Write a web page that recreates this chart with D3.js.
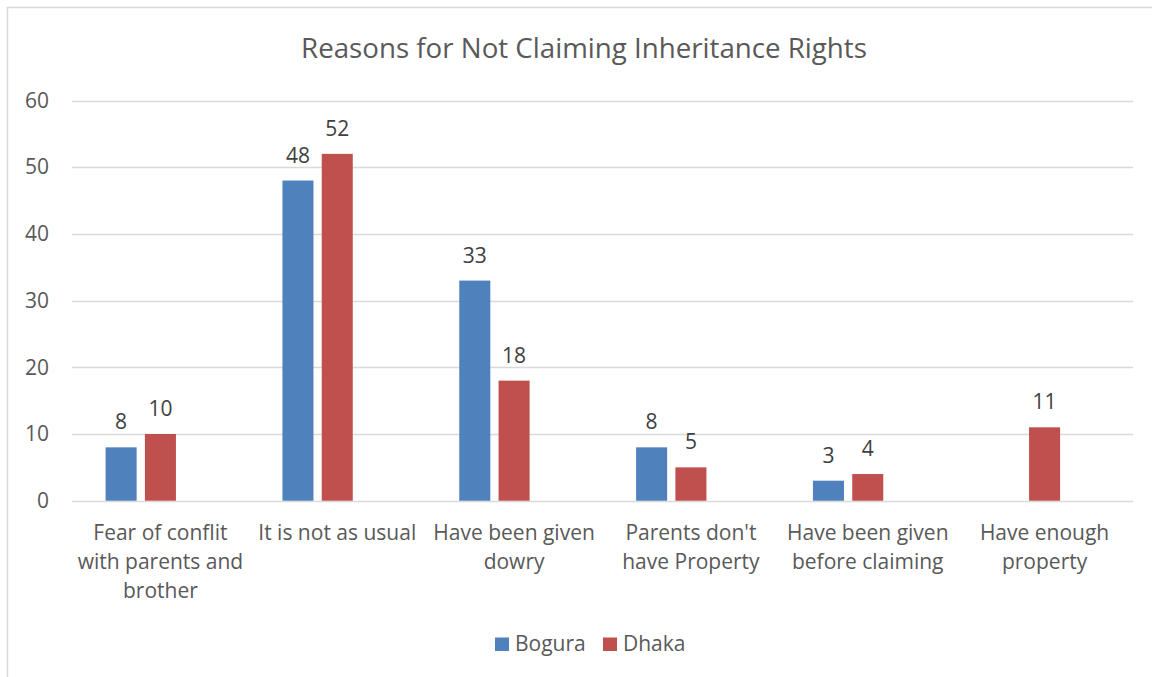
<!DOCTYPE html>
<html>
<head>
<meta charset="utf-8">
<script src="https://cdn.jsdelivr.net/npm/d3@7"></script>
<style>
  html, body { margin: 0; padding: 0; background: #fff; }
  svg { display: block; font-family: "Open Sans", "Noto Sans", sans-serif; }
</style>
</head>
<body>
<svg id="chart" width="1152" height="677"></svg>
<script>
// Survey responses: reasons women gave for not claiming inheritance
const categories = [
  ["Fear of conflit", "with parents and", "brother"],
  ["It is not as usual"],
  ["Have been given", "dowry"],
  ["Parents don't", "have Property"],
  ["Have been given", "before claiming"],
  ["Have enough", "property"]
];
const seriesNames = ["Bogura", "Dhaka"];
const bogura = [8, 48, 33, 8, 3, null];
const dhaka = [10, 52, 18, 5, 4, 11];
const yTicks = [0, 10, 20, 30, 40, 50, 60];
const colors = ["#4F81BD", "#C0504D"];
const title = "Reasons for Not Claiming Inheritance Rights";

const svg = d3.select("#chart");
const textColor = "#595959";
const gridColor = "#D9D9D9";
const fontSize = "21px";

// chart frame (extends past the right and bottom edges)
svg.append("rect")
  .attr("x", 7.5).attr("y", 7.5)
  .attr("width", 1160).attr("height", 690)
  .attr("fill", "#fff").attr("stroke", gridColor).attr("stroke-width", 1.5);

const plot = { left: 72, right: 1133, top: 100.5, bottom: 500.7 };

const y = d3.scaleLinear().domain([0, 60]).range([plot.bottom, plot.top]);
const catKeys = categories.map((c, i) => i);
const x = d3.scaleBand().domain(catKeys).range([plot.left, plot.right]).paddingInner(0).paddingOuter(0);
// three slots per cluster, the last one left empty
const xSub = d3.scaleBand().domain(["Bogura", "Dhaka", "_"]).range([0, x.bandwidth()])
  .paddingInner(0.21).paddingOuter(0.855);

// gridlines
svg.append("g")
  .selectAll("line")
  .data(yTicks)
  .join("line")
  .attr("x1", plot.left).attr("x2", plot.right)
  .attr("y1", d => Math.round(y(d)) + 0.5).attr("y2", d => Math.round(y(d)) + 0.5)
  .attr("stroke", gridColor).attr("stroke-width", 1.6);

// y axis labels
const yAxis = d3.axisLeft(y).tickValues(yTicks).tickSize(0).tickPadding(0);
const yg = svg.append("g").attr("transform", `translate(49,0)`).call(yAxis);
yg.select(".domain").remove();
yg.selectAll("text")
  .attr("fill", textColor)
  .style("font-size", fontSize)
  .style("font-family", '"Open Sans", sans-serif');

// bars
const rows = catKeys.map(i => ({ i, values: [bogura[i], dhaka[i]] }));
const groups = svg.append("g").selectAll("g")
  .data(rows)
  .join("g")
  .attr("transform", d => `translate(${x(d.i)},0)`);

groups.selectAll("rect")
  .data(d => d.values.map((v, k) => ({ name: seriesNames[k], v, k })).filter(e => e.v !== null))
  .join("rect")
  .attr("x", d => xSub(d.name))
  .attr("width", xSub.bandwidth())
  .attr("y", d => y(d.v))
  .attr("height", d => y(0) - y(d.v))
  .attr("fill", d => colors[d.k]);

// value labels
groups.selectAll("text.value")
  .data(d => d.values.map((v, k) => ({ name: seriesNames[k], v, k })).filter(e => e.v !== null))
  .join("text")
  .attr("class", "value")
  .attr("x", d => xSub(d.name) + xSub.bandwidth() / 2)
  .attr("y", d => y(d.v) - 18)
  .attr("text-anchor", "middle")
  .attr("fill", "#404040")
  .style("font-size", fontSize)
  .text(d => d.v);

// category labels
const catLabels = svg.append("g").selectAll("text")
  .data(rows)
  .join("text")
  .attr("text-anchor", "middle")
  .attr("fill", textColor)
  .style("font-size", fontSize)
  .attr("x", d => x(d.i) + x.bandwidth() / 2)
  .attr("y", 540);
catLabels.selectAll("tspan")
  .data(d => categories[d.i].map(t => ({ t, cx: x(d.i) + x.bandwidth() / 2 })))
  .join("tspan")
  .attr("x", d => d.cx)
  .attr("dy", (d, j) => j === 0 ? 0 : 29)
  .text(d => d.t);

// title
svg.append("text")
  .attr("x", 584).attr("y", 58)
  .attr("text-anchor", "middle")
  .attr("fill", textColor)
  .style("font-size", "27.7px")
  .text(title);

// legend
const legendX = [495, 603];
const legend = svg.append("g").selectAll("g")
  .data(seriesNames)
  .join("g")
  .attr("transform", (d, i) => `translate(${legendX[i]},637.5)`);
legend.append("rect").attr("width", 14).attr("height", 13.5).attr("fill", (d, i) => colors[i]);
legend.append("text")
  .attr("x", 20).attr("y", 13.5)
  .attr("fill", textColor)
  .style("font-size", fontSize)
  .text(d => d);
</script>
</body>
</html>
